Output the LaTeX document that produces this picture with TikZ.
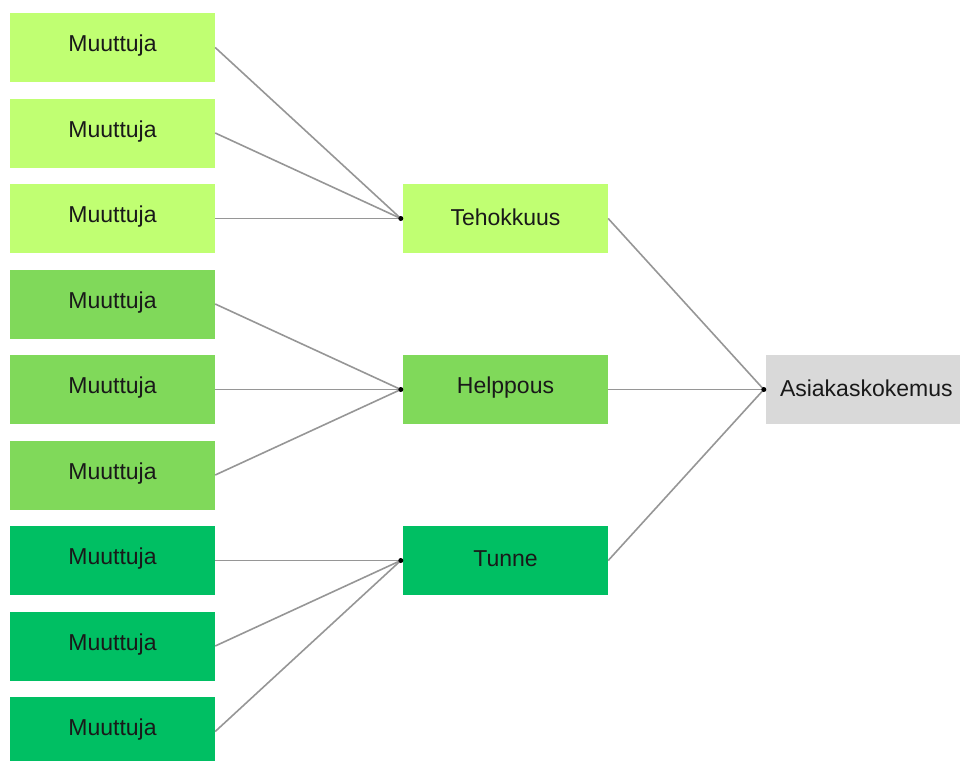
\documentclass[tikz,border=0pt]{standalone}
\usepackage{fontspec}
\setmainfont{Liberation Sans}
\definecolor{lightgreen}{RGB}{192,255,114}
\definecolor{midgreen}{RGB}{128,217,90}
\definecolor{darkgreen}{RGB}{0,191,99}
\definecolor{softgray}{RGB}{217,217,217}
\definecolor{linkgray}{RGB}{150,150,150}
\definecolor{textdark}{RGB}{25,25,25}
\tikzset{
  varbox/.style={rectangle, minimum width=205pt, minimum height=69pt, inner sep=0pt,
    font=\fontsize{23}{26}\selectfont, text=textdark},
  lbl/.style={font=\fontsize{23}{26}\selectfont, text=textdark, inner sep=0pt},
  link/.style={draw=linkgray, line width=1.6pt},
  joint/.style={circle, fill=black, inner sep=0pt, minimum size=5pt}
}
\begin{document}
\begin{tikzpicture}[x=1pt,y=-1pt]
  \useasboundingbox (0,0) rectangle (960,760);
  \clip (0,0) rectangle (960,760);

  % input variables
  \foreach \i/\c in {1/lightgreen,2/lightgreen,3/lightgreen,4/midgreen,5/midgreen,6/midgreen,7/darkgreen,8/darkgreen,9/darkgreen}{
    \node[varbox, fill=\c] (v\i) at (112.5,{47.5+85.5*(\i-1)}) {};
    \node[lbl] at ([yshift=1.5pt]v\i.center) {Muuttuja};
  }

  % factors
  \node[varbox, fill=lightgreen] (teho) at (505.5,218.5) {};
  \node[varbox, fill=midgreen] (help) at (505.5,389.5) {};
  \node[varbox, fill=darkgreen] (tunne) at (505.5,560.5) {};
  \node[lbl] at ([yshift=1.5pt]teho.center) {Tehokkuus};
  \node[lbl] at ([yshift=1.5pt]help.center) {Helppous};
  \node[lbl] at ([yshift=1.5pt]tunne.center) {Tunne};

  % outcome
  \node[varbox, fill=softgray] (asiakas) at (868.5,389.5) {};
  \node[lbl, anchor=west] at ([xshift=14pt,yshift=1.5pt]asiakas.west) {Asiakaskokemus};

  % junction points
  \coordinate (jteho) at ([xshift=-2pt]teho.west);
  \coordinate (jhelp) at ([xshift=-2pt]help.west);
  \coordinate (jtunne) at ([xshift=-2pt]tunne.west);
  \coordinate (jasiakas) at ([xshift=-2pt]asiakas.west);

  \foreach \i in {1,2,3} \draw[link] (v\i.east) -- (jteho);
  \foreach \i in {4,5,6} \draw[link] (v\i.east) -- (jhelp);
  \foreach \i in {7,8,9} \draw[link] (v\i.east) -- (jtunne);
  \foreach \n in {teho,help,tunne} \draw[link] (\n.east) -- (jasiakas);

  \foreach \j in {jteho,jhelp,jtunne,jasiakas} \node[joint] at (\j) {};
\end{tikzpicture}
\end{document}
